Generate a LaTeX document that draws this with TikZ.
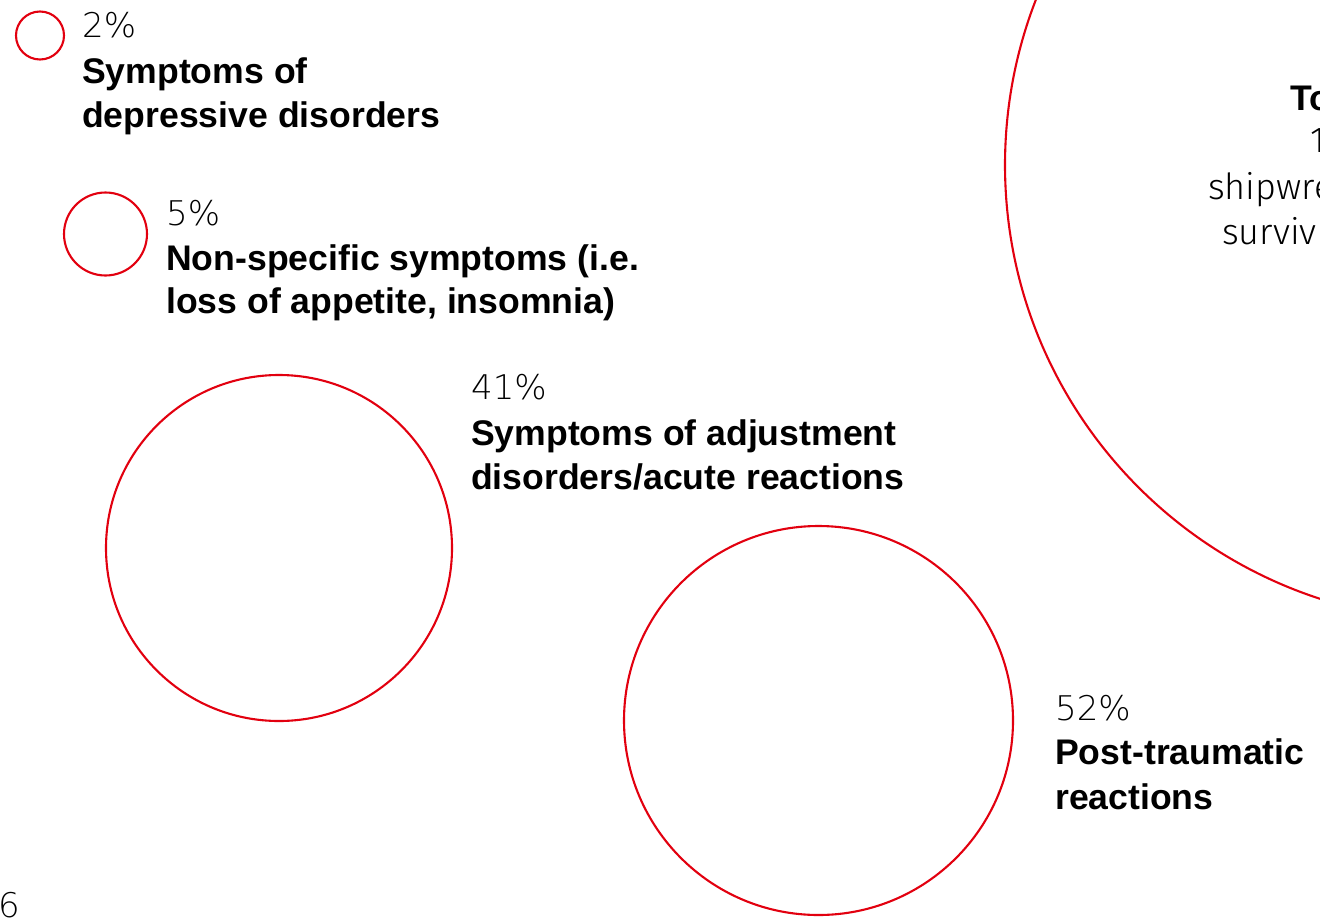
\documentclass[tikz,border=0pt]{standalone}
\usepackage{fontspec}
\setmainfont{Liberation Sans}
\newfontfamily\lightf{Fira Sans Light}
\newfontfamily\numf{DejaVu Sans ExtraLight}
\definecolor{ringred}{RGB}{226,0,15}
\begin{document}
\begin{tikzpicture}[x=1pt,y=-1pt,
  ring/.style={circle,draw=ringred,line width=2.1pt,inner sep=0pt},
  pct/.style={anchor=base west,inner sep=0pt,font=\numf\fontsize{34}{44}\selectfont},
  txt/.style={anchor=base west,inner sep=0pt,font=\lightf\fontsize{36}{44}\selectfont},
  lbl/.style={anchor=base west,inner sep=0pt,font=\bfseries\fontsize{35.6}{44}\selectfont}]
\useasboundingbox (0,0) rectangle (1320,918);
\clip (0,0) rectangle (1320,918);
% circles
\node[ring,minimum size=48pt] (c1) at (40,35.5) {};
\node[ring,minimum size=83pt] (c2) at (105.5,234) {};
\node[ring,minimum size=346pt] (c3) at (279,548) {};
\node[ring,minimum size=389pt] (c4) at (818.5,720.5) {};
\node[ring,minimum size=912pt] (c5) at (1461,165) {};
% 2%
\node[pct] (p1) at (82,37) {2\%};
\node[lbl] (l1a) at (82,83) {Symptoms of};
\node[lbl] (l1b) at (82,127) {depressive disorders};
% 5%
\node[pct] (p2) at (166,225) {5\%};
\node[lbl] (l2a) at (166,270) {Non-specific symptoms (i.e.};
\node[lbl] (l2b) at (166,313) {loss of appetite, insomnia)};
% 41%
\node[pct] (p3) at (471,399) {41\%};
\node[lbl] (l3a) at (471,445) {Symptoms of adjustment};
\node[lbl] (l3b) at (471,489) {disorders/acute reactions};
% 52%
\node[pct] (p4) at (1055,720) {52\%};
\node[lbl] (l4a) at (1055,764) {Post-traumatic};
\node[lbl] (l4b) at (1055,809) {reactions};
% right, cut off
\node[lbl] (t1) at (1290,110) {To};
\node[txt] (t2) at (1310,152) {1};
\node[txt] (t3) at (1208,199) {shipwre};
\node[txt] (t4) at (1222,244) {surviv};
% page number
\node[pct] (pg) at (-2,917) {6};
\end{tikzpicture}
\end{document}
